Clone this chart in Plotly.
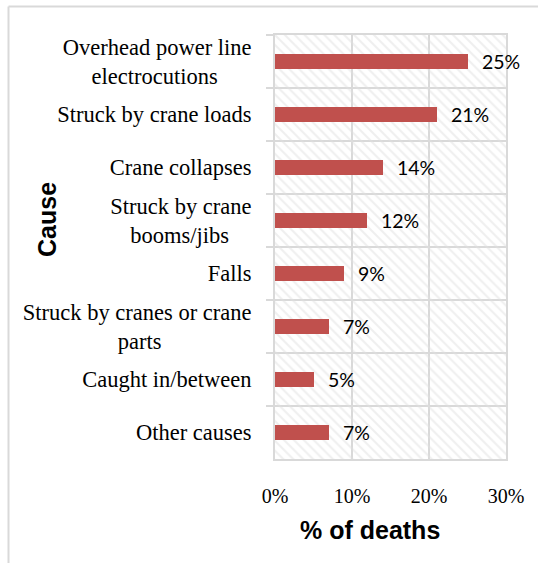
import plotly.graph_objects as go

# Causes of crane-related deaths (share of all deaths, %)
NB = "\u00a0"
causes = [
    "Overhead power line<br>electrocutions" + NB * 6,
    "Struck by crane loads",
    "Crane collapses",
    "Struck by crane<br>booms/jibs" + NB * 4,
    "Falls",
    "Struck by cranes or crane<br>parts" + NB * 16,
    "Caught in/between",
    "Other causes",
]
shares = [25, 21, 14, 12, 9, 7, 5, 7]
x_ticks = [0, 10, 20, 30]
x_tick_labels = ["0%", "10%", "20%", "30%"]
x_max = 30

BAR_RED = "#c0504d"
GRID = "#d9d9d9"
SERIF = "Liberation Serif, Times New Roman, serif"
SANS = "Liberation Sans, Arial, sans-serif"

fig = go.Figure()

# hatched plot-area background, one full-width band per category
fig.add_trace(go.Bar(
    y=causes, x=[x_max] * len(causes), orientation="h", width=1,
    marker=dict(color="rgba(0,0,0,0)", line=dict(width=0),
                pattern=dict(shape="\\", fgcolor="#e0e0e0", bgcolor="rgba(0,0,0,0)",
                             size=7, solidity=0.3)),
    hoverinfo="skip", showlegend=False,
))

fig.add_trace(go.Bar(
    y=causes, x=shares, orientation="h", width=0.3,
    marker=dict(color=BAR_RED, line=dict(width=0)),
    showlegend=False,
))

# value labels beside each bar
for c, v in zip(causes, shares):
    fig.add_annotation(
        x=v, y=c, text=f"{v}%", showarrow=False, xanchor="left", xshift=12,
        font=dict(family="Lato, Open Sans, sans-serif", size=19.5, color="#000000"),
    )

# axis titles
fig.add_annotation(
    xref="paper", yref="paper", x=(370 - 275) / 231, y=(459 - 530) / 424,
    text="<b>% of deaths</b>", showarrow=False, xanchor="center", yanchor="middle",
    font=dict(family=SANS, size=25, color="#000000"),
)
fig.add_annotation(
    xref="paper", yref="paper", x=(47 - 275) / 231, y=(459 - 220) / 424,
    text="<b>Cause</b>", showarrow=False, textangle=-90,
    xanchor="center", yanchor="middle",
    font=dict(family=SANS, size=25, color="#000000"),
)

fig.update_layout(
    width=538, height=563,
    margin=dict(l=275, r=32, t=35, b=104),
    paper_bgcolor="white", plot_bgcolor="white",
    barmode="overlay", bargap=0,
    xaxis=dict(
        range=[0, x_max], tickvals=x_ticks, ticktext=x_tick_labels,
        showgrid=True, gridcolor=GRID, gridwidth=2,
        zeroline=False, showline=True, linecolor=GRID, linewidth=2, mirror=True,
        ticks="", ticklabelstandoff=18,
        tickfont=dict(family=SERIF, size=20, color="#000000"),
        fixedrange=True,
    ),
    yaxis=dict(
        categoryorder="array", categoryarray=causes, autorange="reversed",
        tickson="boundaries", showgrid=True, gridcolor=GRID, gridwidth=2,
        showline=True, linecolor=GRID, linewidth=2, mirror=True,
        ticks="outside", ticklen=7, tickcolor=GRID, tickwidth=2,
        ticklabelstandoff=17,
        tickfont=dict(family=SERIF, size=22.5, color="#000000"),
        fixedrange=True,
    ),
    shapes=[
        # outer chart frame (top and left edges)
        dict(type="line", xref="paper", yref="paper",
             x0=(8.5 - 275) / 231, x1=(540 - 275) / 231,
             y0=(459 - 6.5) / 424, y1=(459 - 6.5) / 424,
             line=dict(color=GRID, width=2)),
        dict(type="line", xref="paper", yref="paper",
             x0=(8.5 - 275) / 231, x1=(8.5 - 275) / 231,
             y0=(459 - 6.5) / 424, y1=(459 - 565) / 424,
             line=dict(color=GRID, width=2)),
    ],
)

fig.write_html("out.html")
